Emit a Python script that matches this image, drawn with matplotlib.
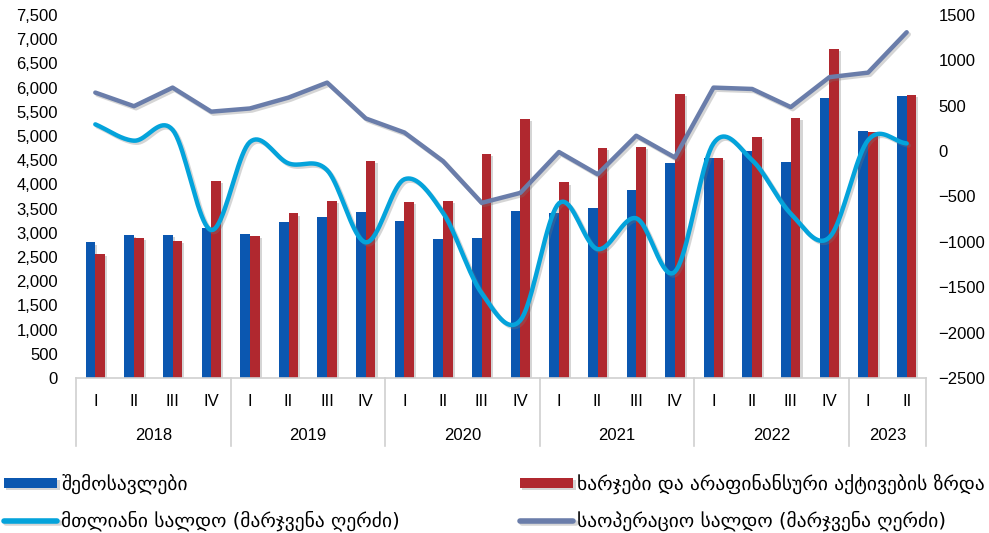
import numpy as np
import matplotlib
matplotlib.use("Agg")
import matplotlib.pyplot as plt
from matplotlib import patheffects as pe
from matplotlib.transforms import blended_transform_factory
from matplotlib.ticker import FuncFormatter

# ---------------- data ----------------
years = ["2018", "2019", "2020", "2021", "2022", "2023"]
quarters_per_year = [4, 4, 4, 4, 4, 2]
quarter_names = ["I", "II", "III", "IV"]

revenue = [2800, 2950, 2950, 3100, 2970, 3220, 3330, 3420,
           3240, 2870, 2900, 3450, 3400, 3510, 3880, 4440,
           4540, 4700, 4470, 5780, 5110, 5830]
expense = [2570, 2890, 2840, 4080, 2935, 3400, 3650, 4490,
           3630, 3650, 4620, 5360, 4040, 4760, 4770, 5860,
           4550, 4985, 5365, 6790, 5075, 5845]
total_balance = [295, 115, 235, -870, 100, -135, -210, -1005,
                 -310, -680, -1565, -1865, -575, -1080, -740, -1330,
                 85, -100, -690, -950, 120, 85]
operating_balance = [645, 495, 700, 435, 470, 590, 755, 360,
                     205, -110, -570, -460, -10, -255, 170, -70,
                     700, 685, 485, 815, 865, 1310]

labels = ["შემოსავლები",
          "ხარჯები და არაფინანსური აქტივების ზრდა",
          "მთლიანი სალდო (მარჯვენა ღერძი)",
          "საოპერაციო სალდო (მარჯვენა ღერძი)"]

c_blue = "#0B57B0"
c_red = "#B0282F"
c_cyan = "#04A3DB"
c_oper = "#6A7DAA"

plt.rcParams['font.family'] = ['Liberation Sans', 'DejaVu Sans']

W, H = 989, 533
fig = plt.figure(figsize=(W / 100, H / 100), dpi=100)
ax = fig.add_axes([76 / W, (H - 378) / H, (926 - 76) / W, (378 - 15) / H])
ax2 = ax.twinx()

n = len(revenue)
x = np.arange(n)
bw = 0.25

shadow = [pe.SimplePatchShadow(offset=(1.5, -1.5), shadow_rgbFace='#888888', alpha=0.35), pe.Normal()]
b1 = ax.bar(x - bw / 2, revenue, width=bw, color=c_blue, zorder=2)
b2 = ax.bar(x + bw / 2, expense, width=bw, color=c_red, zorder=2)
for p in list(b1) + list(b2):
    p.set_path_effects(shadow)

ax.set_xlim(-0.5, n - 0.5)
ax.set_ylim(0, 7500)
ax.set_yticks(np.arange(0, 7501, 500))
ax.yaxis.set_major_formatter(FuncFormatter(lambda v, p: f"{int(v):,}"))
ax.tick_params(axis='y', length=0, pad=13, labelsize=12)
ax.set_xticks([])
for s in ['top', 'right', 'left']:
    ax.spines[s].set_visible(False)
ax.spines['bottom'].set_color('#d0d0d0')
ax.spines['bottom'].set_linewidth(1.2)


# smoothed line (Catmull-Rom through the data points)
def smooth(xs, ys, steps=20):
    xs = np.asarray(xs, float)
    ys = np.asarray(ys, float)
    px = np.concatenate([[2 * xs[0] - xs[1]], xs, [2 * xs[-1] - xs[-2]]])
    py = np.concatenate([[2 * ys[0] - ys[1]], ys, [2 * ys[-1] - ys[-2]]])
    ox, oy = [], []
    for i in range(1, len(px) - 2):
        t = np.linspace(0, 1, steps, endpoint=False)
        for P, out in ((px, ox), (py, oy)):
            p0, p1, p2, p3 = P[i - 1], P[i], P[i + 1], P[i + 2]
            out.extend(0.5 * ((2 * p1) + (-p0 + p2) * t + (2 * p0 - 5 * p1 + 4 * p2 - p3) * t ** 2
                              + (-p0 + 3 * p1 - 3 * p2 + p3) * t ** 3))
    ox.append(xs[-1]); oy.append(ys[-1])
    return np.array(ox), np.array(oy)


lshadow = [pe.SimpleLineShadow(offset=(1.5, -1.5), shadow_color='#777777', alpha=0.3), pe.Normal()]
sx, sy = smooth(x, total_balance)
l1, = ax2.plot(sx, sy, color=c_cyan, lw=3.2, solid_capstyle='round', zorder=3, path_effects=lshadow)
l2, = ax2.plot(x, operating_balance, color=c_oper, lw=3.2, solid_capstyle='round', zorder=3, path_effects=lshadow)

ax2.set_ylim(-2500, 1500)
ax2.set_yticks(np.arange(-2500, 1501, 500))
ax2.tick_params(axis='y', length=0, pad=9, labelsize=12)
for s in ['top', 'right', 'left', 'bottom']:
    ax2.spines[s].set_visible(False)

# two-level category axis
tr = blended_transform_factory(ax.transData, ax.transAxes)
ax_h = 378 - 15
y_sep = -(446 - 378) / ax_h
y_q = -(402 - 378) / ax_h
y_y = -(436 - 378) / ax_h
start = 0
bounds = [-0.5]
for yr, nq in zip(years, quarters_per_year):
    for q in range(nq):
        ax.text(start + q, y_q, quarter_names[q], transform=tr, ha='center', va='center', fontsize=12)
    ax.text(start + (nq - 1) / 2, y_y, yr, transform=tr, ha='center', va='center', fontsize=12)
    start += nq
    bounds.append(start - 0.5)
for b in bounds:
    ax.plot([b, b], [0, y_sep], transform=tr, color='#d0d0d0', lw=1.2, clip_on=False)

# legends
leg_kw = dict(frameon=False, handlelength=2.75, handletextpad=0.2, handleheight=0.42,
              labelspacing=0.85, borderpad=0, borderaxespad=0, loc='upper left',
              prop={'family': ['DejaVu Sans'], 'size': 14})
legA = fig.legend([b1, l1], [labels[0], labels[2]], bbox_to_anchor=(4 / W, 1 - 474 / H), **leg_kw)
legB = fig.legend([b2, l2], [labels[1], labels[3]], bbox_to_anchor=(520 / W, 1 - 474 / H), **leg_kw)
for lg in (legA, legB):
    lg.get_lines()[0].set_linewidth(4) if lg.get_lines() else None

fig.savefig("out.png", dpi=100)
